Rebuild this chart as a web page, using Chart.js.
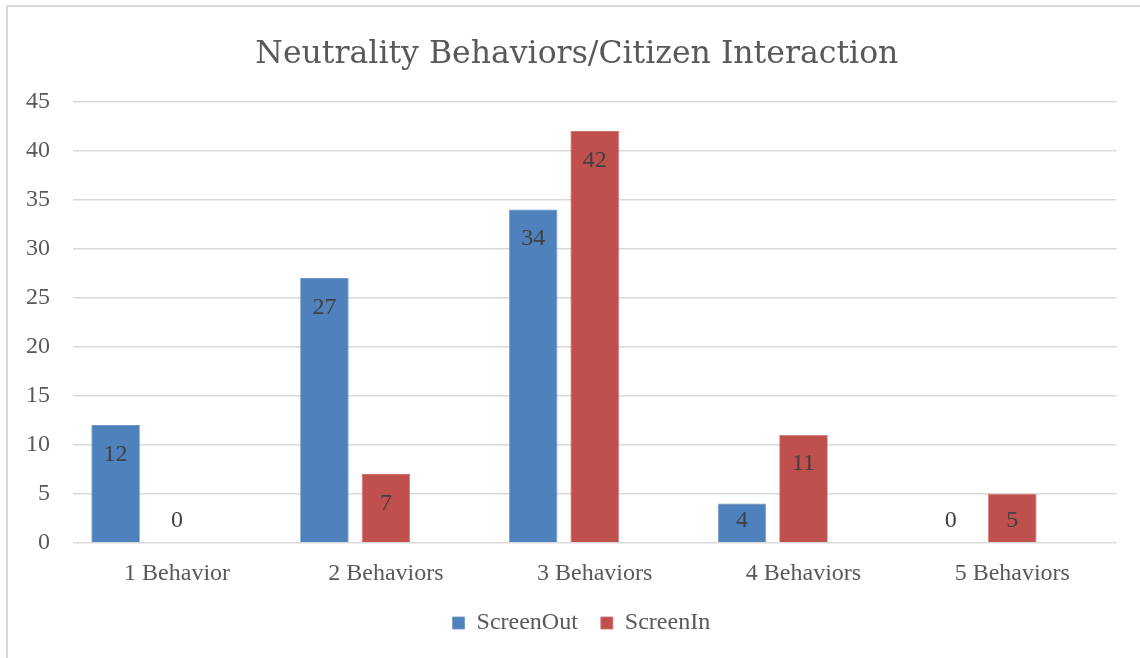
<!DOCTYPE html>
<html>
<head>
<meta charset="utf-8">
<script src="https://cdn.jsdelivr.net/npm/chart.js@4"></script>
<style>
html,body{margin:0;padding:0;background:#fff;}
#wrap{position:relative;width:1140px;height:658px;}
</style>
</head>
<body>
<div id="wrap"><canvas id="c" width="1140" height="658"></canvas></div>
<script>
const categories = ['1 Behavior', '2 Behaviors', '3 Behaviors', '4 Behaviors', '5 Behaviors'];
const screenOut = [12, 27, 34, 4, 0];
const screenIn = [0, 7, 42, 11, 5];
const spacer = [null, null, null, null, null];
const yTicks = [0, 5, 10, 15, 20, 25, 30, 35, 40, 45];

const FONT = "'Liberation Serif', 'DejaVu Serif', serif";
const TITLE_FONT = "'DejaVu Serif', 'Liberation Serif', serif";

const framePlugin = {
  id: 'frame',
  afterLayout(chart) {
    if (chart.legend) { chart.legend.left += 46; }
    if (chart.titleBlock) { chart.titleBlock.left += 37; }
  },
  beforeDraw(chart) {
    const ctx = chart.ctx;
    ctx.save();
    ctx.strokeStyle = '#d9d9d9';
    ctx.lineWidth = 2;
    ctx.beginPath();
    ctx.moveTo(7, 660);
    ctx.lineTo(7, 6);
    ctx.lineTo(1142, 6);
    ctx.stroke();
    ctx.restore();
  }
};

const labelPlugin = {
  id: 'barLabels',
  afterDatasetsDraw(chart) {
    const ctx = chart.ctx;
    const base = chart.scales.y.getPixelForValue(0);
    ctx.save();
    ctx.font = '24px ' + FONT;
    ctx.fillStyle = '#404040';
    ctx.textAlign = 'center';
    ctx.textBaseline = 'alphabetic';
    [0, 1].forEach(di => {
      const meta = chart.getDatasetMeta(di);
      meta.data.forEach((bar, i) => {
        const v = chart.data.datasets[di].data[i];
        if (v === null || v === undefined) return;
        const cy = Math.min(bar.y + 27.5, base - 23.5);
        ctx.fillText(String(v), bar.x, cy + 8);
      });
    });
    ctx.restore();
  }
};

new Chart(document.getElementById('c'), {
  type: 'bar',
  data: {
    labels: categories,
    datasets: [
      { label: 'ScreenOut', data: screenOut, backgroundColor: '#4f81bd', borderColor: '#6f97c9', borderWidth: 0.8 },
      { label: 'ScreenIn', data: screenIn, backgroundColor: '#c0504d', borderColor: '#cd706e', borderWidth: 0.8 },
      { label: '', data: spacer, backgroundColor: 'rgba(0,0,0,0)' }
    ]
  },
  options: {
    responsive: false,
    animation: false,
    devicePixelRatio: 1,
    layout: { padding: { left: 0, right: 23.3, top: 0, bottom: 13 } },
    datasets: { bar: { categoryPercentage: 0.8836, barPercentage: 0.789 } },
    plugins: {
      title: {
        display: true,
        text: 'Neutrality Behaviors/Citizen Interaction',
        color: '#595959',
        font: { family: TITLE_FONT, size: 31.5, weight: 'normal' },
        padding: { top: 36, bottom: 27.9 }
      },
      legend: {
        display: true,
        position: 'bottom',
        labels: {
          color: '#595959',
          font: { family: FONT, size: 24 },
          boxWidth: 12,
          boxHeight: 12,
          padding: 23,
          filter: item => item.text !== ''
        }
      },
      tooltip: { enabled: false }
    },
    scales: {
      x: {
        grid: { display: false, drawTicks: false },
        border: { display: false },
        afterFit: s => { s.height = 45.3; },
        ticks: { color: '#595959', font: { family: FONT, size: 24 }, padding: 16.6, maxRotation: 0 }
      },
      y: {
        min: 0,
        max: 45,
        afterBuildTicks: s => { s.ticks = yTicks.map(v => ({ value: v })); },
        afterFit: s => { s.width = 72.7; },
        grid: { color: '#d9d9d9', lineWidth: 1.5, drawTicks: false },
        border: { display: false },
        ticks: { color: '#595959', font: { family: FONT, size: 24 }, padding: 22.7 }
      }
    }
  },
  plugins: [framePlugin, labelPlugin]
});
</script>
</body>
</html>
